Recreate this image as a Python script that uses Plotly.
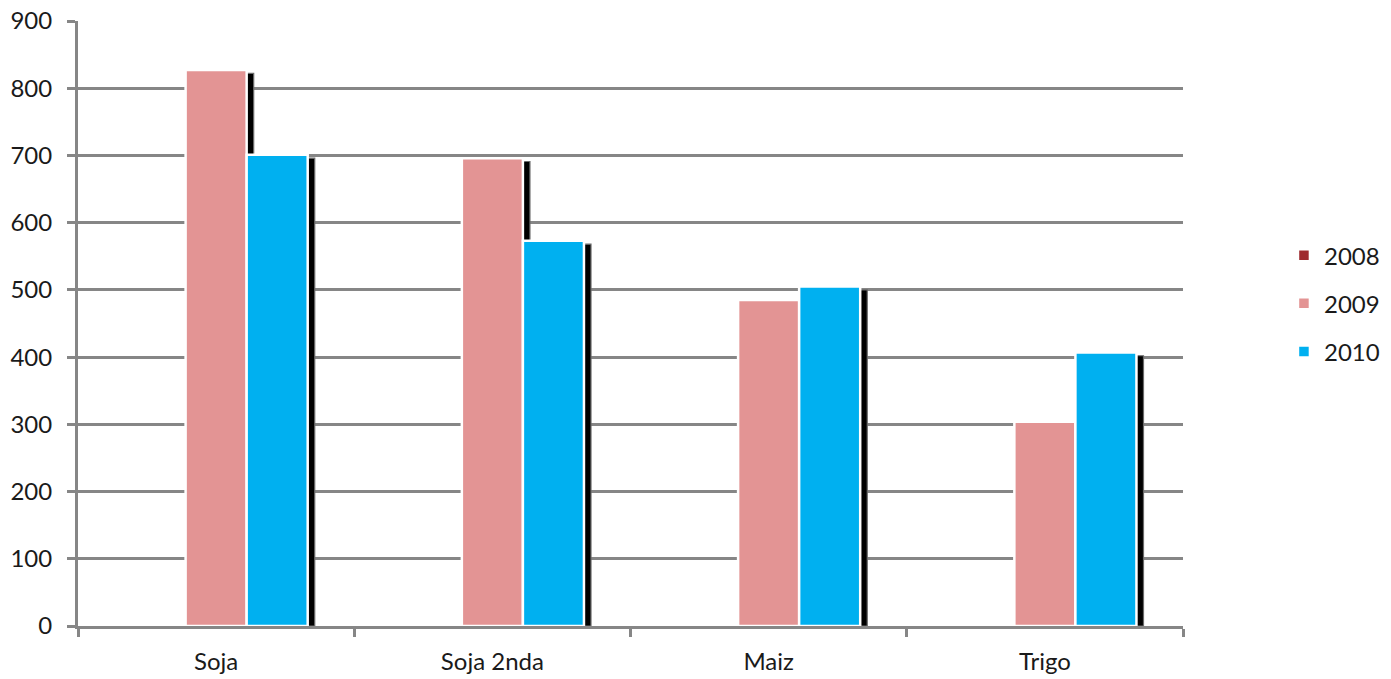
import plotly.graph_objects as go

categories = ["Soja", "Soja 2nda", "Maiz", "Trigo"]
years = ["2008", "2009", "2010"]
values_2008 = [None, None, None, None]
values_2009 = [827, 696, 485, 304]
values_2010 = [701, 573, 505, 407]

colors = {"2008": "#9E2A2F", "2009": "#E39494", "2010": "#00B0F0"}
GRID = "#868686"
FONT = "Lato"
FS = 24

# geometry (in category units)
W = 0.221
offsets = {"2008": -1.5 * W, "2009": -0.5 * W, "2010": 0.5 * W}
SH_DX = 0.0255   # shadow shift right
SH_DY = 5        # shadow drop (value units)

series = {"2008": values_2008, "2009": values_2009, "2010": values_2010}

fig = go.Figure()

# shadows first (behind)
for y in years:
    vals = series[y]
    sh = [None if v is None else v - SH_DY for v in vals]
    fig.add_trace(go.Bar(
        x=categories, y=sh, width=W, offset=offsets[y] + SH_DX,
        marker=dict(color="#000000", line=dict(color="#6a6a6a", width=1.2)),
        showlegend=False, hoverinfo="skip",
    ))

for i, y in enumerate(years):
    fig.add_trace(go.Bar(
        x=categories, y=series[y], name=y, width=W, offset=offsets[y],
        marker=dict(color=colors[y], line=dict(color="#FFFFFF", width=2.5)),
        legendgroup=y,
    ))

fig.update_layout(
    barmode="overlay",
    width=1383, height=671,
    margin=dict(l=70, r=208, t=13, b=53),
    paper_bgcolor="white", plot_bgcolor="white",
    font=dict(family=FONT, size=FS, color="#1a1a1a"),
    legend=dict(
        xref="container", x=0.9226, xanchor="left",
        y=0.533, yanchor="middle",
        font=dict(family=FONT, size=FS, color="#1a1a1a"),
        tracegroupgap=14, itemwidth=30,
        bgcolor="rgba(0,0,0,0)",
    ),
    showlegend=True,
)

fig.update_xaxes(
    type="category", range=[-0.5, 3.5], automargin=False,
    showgrid=False, zeroline=False,
    showline=True, linecolor=GRID, linewidth=3,
    ticks="outside", tickson="boundaries", ticklen=8, tickwidth=2.5, tickcolor=GRID,
    ticklabelstandoff=12, ticklabeloverflow="allow",
    tickfont=dict(family=FONT, size=FS, color="#1a1a1a"),
)
fig.update_yaxes(
    range=[0, 900], dtick=100, tick0=0, automargin=False,
    showgrid=True, gridcolor=GRID, gridwidth=3,
    zeroline=False,
    showline=True, linecolor=GRID, linewidth=3,
    ticks="outside", ticklen=8, tickwidth=2.5, tickcolor=GRID,
    ticklabelstandoff=10, ticklabeloverflow="allow",
    tickfont=dict(family=FONT, size=FS, color="#1a1a1a"),
)

fig.write_html("out.html")
